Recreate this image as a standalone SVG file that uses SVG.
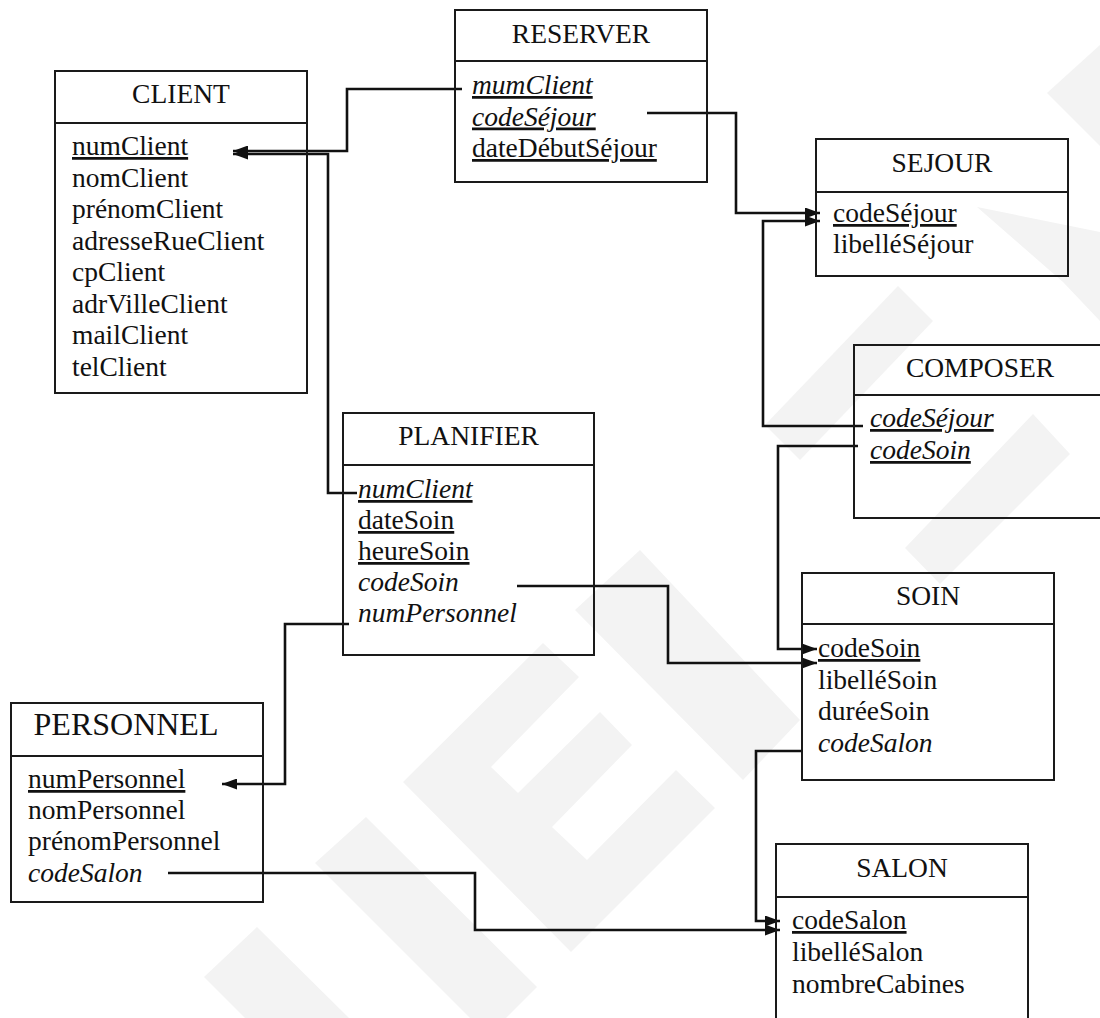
<svg xmlns="http://www.w3.org/2000/svg" width="1100" height="1018" viewBox="0 0 1100 1018">
  <style>
    .box { fill: none; stroke: #1a1a1a; stroke-width: 2; }
    .div { stroke: #1a1a1a; stroke-width: 2; }
    .t { font-family: "Liberation Serif", "Times New Roman", serif; font-size: 27.5px; fill: #111; }
    .h { text-anchor: middle; }
    .i { font-style: italic; }
    .u { text-decoration: underline; }
    .c { fill: none; stroke: #111; stroke-width: 2.6; stroke-linejoin: miter; }
    .wm { fill: #f3f3f3; }
  </style>
  <defs>
    <marker id="arr" markerUnits="userSpaceOnUse" markerWidth="15" markerHeight="11" refX="15" refY="5.5" orient="auto">
      <path d="M0,0 L15,5.5 L0,11 z" fill="#111"/>
    </marker>
  </defs>
  <rect width="1100" height="1018" fill="#ffffff"/>

  <g id="watermark">
    <polygon class="wm" points="403,782 543,643 579,677 491,767 518,793 600,712 632,745 552,827 587,860 676,770 715,808 571,952"/>
    <polygon class="wm" points="315,863 366,817 537,987 506,1018 470,1018"/>
    <polygon class="wm" points="204,977 257,927 349,1018 245,1018"/>
    <polygon class="wm" points="575,610 640,550 800,720 743,780"/>
    <polygon class="wm" points="1047,93 1100,45 1100,146"/>
    <polygon class="wm" points="977,207 1100,232 1100,321 1063,282"/>
    <polygon class="wm" points="898,286 933,321 800,460 765,425"/>
    <polygon class="wm" points="1033,414 1070,454 940,584 905,548"/>
  </g>

  <g id="connectors">
    <polyline id="c-reserver-client" class="c" points="462,89 347,89 347,151 233,151" marker-end="url(#arr)"/>
    <polyline id="c-planifier-client" class="c" points="357,493 328,493 328,154 233,154" marker-end="url(#arr)"/>
    <polyline id="c-reserver-sejour" class="c" points="647,113 736,113 736,213 820,213" marker-end="url(#arr)"/>
    <polyline id="c-composer-sejour" class="c" points="863,426 763,426 763,221 820,221" marker-end="url(#arr)"/>
    <polyline id="c-composer-soin" class="c" points="858,446 778,446 778,649 817,649" marker-end="url(#arr)"/>
    <polyline id="c-planifier-soin" class="c" points="517,586 668,586 668,663 817,663" marker-end="url(#arr)"/>
    <polyline id="c-planifier-personnel" class="c" points="349,624 285,624 285,784 222,784" marker-end="url(#arr)"/>
    <polyline id="c-soin-salon" class="c" points="802,751 756,751 756,921 780,921" marker-end="url(#arr)"/>
    <polyline id="c-personnel-salon" class="c" points="168,873 475,873 475,930 780,930" marker-end="url(#arr)"/>
  </g>

  <g id="CLIENT">
    <rect class="box" x="55" y="71" width="252" height="322"/>
    <line class="div" x1="55" y1="123" x2="307" y2="123"/>
    <text class="t h" x="181" y="103">CLIENT</text>
    <text class="t u" x="72" y="155">numClient</text>
    <text class="t" x="72" y="186.5">nomClient</text>
    <text class="t" x="72" y="218">prénomClient</text>
    <text class="t" x="72" y="249.5">adresseRueClient</text>
    <text class="t" x="72" y="281">cpClient</text>
    <text class="t" x="72" y="312.5">adrVilleClient</text>
    <text class="t" x="72" y="344">mailClient</text>
    <text class="t" x="72" y="375.5">telClient</text>
  </g>

  <g id="RESERVER">
    <rect class="box" x="455" y="10" width="252" height="172"/>
    <line class="div" x1="455" y1="61" x2="707" y2="61"/>
    <text class="t h" x="581" y="43">RESERVER</text>
    <text class="t i u" x="472" y="94">mumClient</text>
    <text class="t i u" x="472" y="125.5">codeSéjour</text>
    <text class="t u" x="472" y="157">dateDébutSéjour</text>
  </g>

  <g id="SEJOUR">
    <rect class="box" x="816" y="139" width="252" height="137"/>
    <line class="div" x1="816" y1="192" x2="1068" y2="192"/>
    <text class="t h" x="942" y="172">SEJOUR</text>
    <text class="t u" x="833" y="222">codeSéjour</text>
    <text class="t" x="833" y="253">libelléSéjour</text>
  </g>

  <g id="COMPOSER">
    <rect class="box" x="854" y="345" width="252" height="173"/>
    <line class="div" x1="854" y1="395" x2="1106" y2="395"/>
    <text class="t h" x="980" y="377">COMPOSER</text>
    <text class="t i u" x="870" y="427">codeSéjour</text>
    <text class="t i u" x="870" y="459">codeSoin</text>
  </g>

  <g id="PLANIFIER">
    <rect class="box" x="343" y="413" width="251" height="242"/>
    <line class="div" x1="343" y1="465" x2="594" y2="465"/>
    <text class="t h" x="468.5" y="445">PLANIFIER</text>
    <text class="t i u" x="358" y="498">numClient</text>
    <text class="t u" x="358" y="529">dateSoin</text>
    <text class="t u" x="358" y="560">heureSoin</text>
    <text class="t i" x="358" y="591">codeSoin</text>
    <text class="t i" x="358" y="622">numPersonnel</text>
  </g>

  <g id="SOIN">
    <rect class="box" x="802" y="573" width="252" height="207"/>
    <line class="div" x1="802" y1="624" x2="1054" y2="624"/>
    <text class="t h" x="928" y="605">SOIN</text>
    <text class="t u" x="818" y="657">codeSoin</text>
    <text class="t" x="818" y="689">libelléSoin</text>
    <text class="t" x="818" y="720">duréeSoin</text>
    <text class="t i" x="818" y="752">codeSalon</text>
  </g>

  <g id="PERSONNEL">
    <rect class="box" x="11" y="703" width="252" height="199"/>
    <line class="div" x1="11" y1="756" x2="263" y2="756"/>
    <text class="t h" x="126" y="735" style="font-size:32px">PERSONNEL</text>
    <text class="t u" x="28" y="788">numPersonnel</text>
    <text class="t" x="28" y="819">nomPersonnel</text>
    <text class="t" x="28" y="850">prénomPersonnel</text>
    <text class="t i" x="28" y="882">codeSalon</text>
  </g>

  <g id="SALON">
    <rect class="box" x="776" y="844" width="252" height="200"/>
    <line class="div" x1="776" y1="897" x2="1028" y2="897"/>
    <text class="t h" x="902" y="877">SALON</text>
    <text class="t u" x="792" y="929">codeSalon</text>
    <text class="t" x="792" y="961">libelléSalon</text>
    <text class="t" x="792" y="993">nombreCabines</text>
  </g>
</svg>
